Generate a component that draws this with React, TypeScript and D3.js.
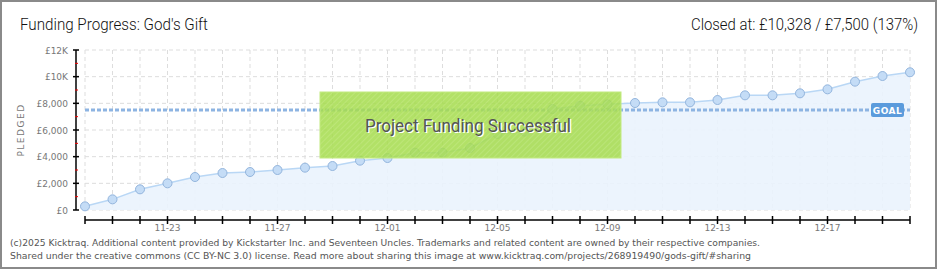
import React from "react";
import * as d3 from "d3";

const dates = [
  "11-20","11-21","11-22","11-23","11-24","11-25","11-26","11-27","11-28","11-29","11-30",
  "12-01","12-02","12-03","12-04","12-05","12-06","12-07","12-08","12-09","12-10",
  "12-11","12-12","12-13","12-14","12-15","12-16","12-17","12-18","12-19","12-20",
];
const pledged = [
  275, 800, 1550, 2000, 2475, 2775, 2850, 3000, 3175, 3300, 3700,
  3900, 4300, 4300, 4650, 5700, 5875, 7575, 7825, 7925, 8025,
  8075, 8075, 8250, 8600, 8600, 8750, 9050, 9625, 10050, 10328,
];
const goal = 7500;
const xLabels = ["11-23", "11-27", "12-01", "12-05", "12-09", "12-13", "12-17"];
const yTicks = [0, 2000, 4000, 6000, 8000, 10000, 12000];
const yMinor = [1000, 3000, 5000, 7000, 9000, 11000];
const yTickLabels = ["£0", "£2,000", "£4,000", "£6,000", "£8,000", "£10K", "£12K"];

const title = "Funding Progress: God's Gift";
const closed = "Closed at:  £10,328 / £7,500 (137%)";
const footer1 =
  "(c)2025 Kicktraq. Additional content provided by Kickstarter Inc. and Seventeen Uncles. Trademarks and related content are owned by their respective companies.";
const footer2 =
  "Shared under the creative commons (CC BY-NC 3.0) license. Read more about sharing this image at www.kicktraq.com/projects/268919490/gods-gift/#sharing";

export default function App() {
  const W = 940, H = 270;
  const x = d3.scalePoint<string>().domain(dates).range([85, 910]);
  const y = d3.scaleLinear().domain([0, 12000]).range([210, 50]);
  const data = dates.map((d, i) => ({ d, v: pledged[i] }));
  const line = d3.line<{ d: string; v: number }>().x((p) => x(p.d)!).y((p) => y(p.v));
  const area = d3
    .area<{ d: string; v: number }>()
    .x((p) => x(p.d)!)
    .y0(y(0))
    .y1((p) => y(p.v));
  const tickFont = "'DejaVu Sans', sans-serif";
  const titleFont = "Roboto, 'Noto Sans', sans-serif";
  return (
    <svg width={W} height={H} style={{ position: "absolute", left: 0, top: 0, background: "#fff" }}>
      <defs>
        <pattern id="stripes" width="4" height="4" patternUnits="userSpaceOnUse" patternTransform="rotate(45)">
          <rect width="4" height="4" fill="#a6dc4e" />
          <line x1="0" y1="0" x2="0" y2="4" stroke="#b6e46a" strokeWidth="1.5" />
        </pattern>
      </defs>
      <rect x={1} y={1} width={935} height={267} fill="#fff" stroke="#8a8a8a" strokeWidth={2} />
      <text x={20} y={30} fontFamily={titleFont} fontSize={16} fontWeight={300} fill="#111" textLength={188} lengthAdjust="spacingAndGlyphs">
        {title}
      </text>
      <text x={918} y={30} textAnchor="end" fontFamily={titleFont} fontSize={16} fontWeight={300} fill="#111" textLength={227} lengthAdjust="spacingAndGlyphs">
        {closed}
      </text>
      {/* grid */}
      {yTicks.map((t) => (
        <line key={"hy" + t} x1={85} x2={910} y1={y(t)} y2={y(t)} stroke="#dddddd" strokeDasharray="4,3" />
      ))}
      {dates.map((d) => (
        <line key={"vx" + d} x1={x(d)} x2={x(d)} y1={50} y2={210} stroke="#dddddd" strokeDasharray="4,3" />
      ))}
      {/* area & line */}
      <path d={area(data)!} fill="#eaf3fd" opacity={0.9} />
      <path d={line(data)!} fill="none" stroke="#b9d7f5" strokeWidth={1.5} />
      {/* goal */}
      <line x1={85} x2={910} y1={y(goal)} y2={y(goal)} stroke="#8db4e2" strokeWidth={3} strokeDasharray="4,2" />
      <rect x={871} y={103} width={33} height={14} rx={2} fill="#5b9bdc" />
      <text x={887.5} y={113.5} textAnchor="middle" fontFamily={tickFont} fontSize={9} fontWeight="bold" fill="#fff" letterSpacing={0.5}>
        GOAL
      </text>
      {data.map((p) => (
        <circle key={"c" + p.d} cx={x(p.d)} cy={y(p.v)} r={4.5} fill="#c4dcf6" stroke="#93b5dd" strokeWidth={1} />
      ))}
      {/* y axis */}
      <line x1={76} x2={76} y1={50} y2={210} stroke="#000" strokeWidth={1.5} />
      {yTicks.map((t, i) => (
        <g key={"yt" + t}>
          <line x1={73} x2={79} y1={y(t)} y2={y(t)} stroke="#000" strokeWidth={1.5} />
          <text x={68} y={y(t) + 3.5} textAnchor="end" fontFamily={tickFont} fontSize={9} fill="#777">
            {yTickLabels[i]}
          </text>
        </g>
      ))}
      {yMinor.map((t) => (
        <line key={"ym" + t} x1={75} x2={78} y1={y(t)} y2={y(t)} stroke="#e00" strokeWidth={1} />
      ))}
      <text transform="translate(24,130) rotate(-90)" textAnchor="middle" fontFamily={tickFont} fontSize={9} fill="#777" letterSpacing={1.5}>
        PLEDGED
      </text>
      {/* x axis */}
      <line x1={85} x2={910} y1={220} y2={220} stroke="#000" strokeWidth={1.5} />
      {dates.map((d) => (
        <line key={"xt" + d} x1={x(d)} x2={x(d)} y1={216} y2={224} stroke="#000" strokeWidth={1.5} />
      ))}
      {xLabels.map((d) => (
        <text key={"xl" + d} x={x(d)} y={231} textAnchor="middle" fontFamily={tickFont} fontSize={9} fill="#777">
          {d}
        </text>
      ))}
      {/* success box */}
      <rect x={320} y={92} width={301} height={66} fill="url(#stripes)" opacity={0.86} />
      <rect x={320} y={92} width={301} height={66} fill="none" stroke="#c2ea80" strokeWidth={1} />
      <text x={469.5} y={133} textAnchor="middle" fontFamily={titleFont} fontSize={19} fontWeight={400} fill="#fff" textLength={206} lengthAdjust="spacingAndGlyphs">
        Project Funding Successful
      </text>
      <text x={468} y={131.5} textAnchor="middle" fontFamily={titleFont} fontSize={19} fontWeight={400} fill="#555" textLength={206} lengthAdjust="spacingAndGlyphs">
        Project Funding Successful
      </text>
      {/* footer */}
      <text x={10} y={246} fontFamily={"Verdana, 'DejaVu Sans', sans-serif"} fontSize={9.5} fill="#555" textLength={750} lengthAdjust="spacingAndGlyphs">
        {footer1}
      </text>
      <text x={10} y={259} fontFamily={"Verdana, 'DejaVu Sans', sans-serif"} fontSize={9.5} fill="#555" textLength={741} lengthAdjust="spacingAndGlyphs">
        {footer2}
      </text>
    </svg>
  );
}
